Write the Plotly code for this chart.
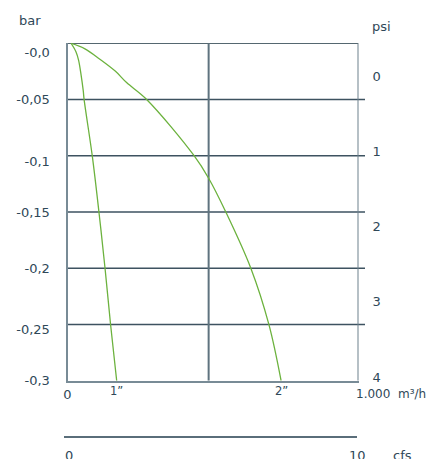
import plotly.graph_objects as go

# ---- data ----
q_1in = [12, 29, 38, 46, 54, 57, 85, 108, 129, 148, 169]
p_1in = [0, -0.0075, -0.015, -0.027, -0.042, -0.05, -0.1, -0.15, -0.2, -0.25, -0.3]

q_2in = [12, 60, 110, 165, 203, 272, 435, 485, 544, 630, 692, 734]
p_2in = [0, -0.005, -0.014, -0.025, -0.035, -0.05, -0.1, -0.12, -0.15, -0.2, -0.25, -0.3]

bar_labels = ["-0,0", "-0,05", "-0,1", "-0,15", "-0,2", "-0,25", "-0,3"]
bar_label_pos = [-0.008, -0.05, -0.105, -0.15, -0.2, -0.254, -0.3]
grid_levels = [-0.05, -0.1, -0.15, -0.2, -0.25]
psi_ticks = [0, 1, 2, 3, 4]
flow_max = 1000
mid_line = 485
cfs_ticks = [0, 10]
cfs_labels = ["0", "10"]

W, H = 435, 459
OFF = 8  # page body margin
TXT = "#2f4858"
FONT = "DejaVu Sans"
GREEN = "#6cb23e"


def px(x):
    return (x - OFF) / W


def py(y):
    return 1 - (y - OFF) / H


fig = go.Figure()
fig.add_trace(go.Scatter(x=q_1in, y=p_1in, mode="lines", line=dict(color=GREEN, width=1.3),
                         line_shape="spline", hoverinfo="skip"))
fig.add_trace(go.Scatter(x=q_2in, y=p_2in, mode="lines", line=dict(color=GREEN, width=1.3),
                         line_shape="spline", hoverinfo="skip"))
# helper traces to register secondary axes
fig.add_trace(go.Scatter(x=[0, 0], y=[psi_ticks[0], psi_ticks[-1]], yaxis="y2", mode="markers",
                         marker=dict(opacity=0), hoverinfo="skip"))
fig.add_trace(go.Scatter(x=cfs_ticks, y=[-0.3, -0.3], xaxis="x2", mode="markers",
                         marker=dict(opacity=0), hoverinfo="skip"))

shapes = []
for g in grid_levels:
    shapes.append(dict(type="line", xref="paper", yref="y", x0=px(67.5), x1=px(365), y0=g, y1=g,
                       line=dict(color="#3d5260", width=1.6), layer="below"))
# top line
shapes.append(dict(type="line", xref="x", yref="y", x0=0, x1=flow_max, y0=0, y1=0,
                   line=dict(color="#1d3441", width=1.6), layer="below"))
# right border
shapes.append(dict(type="line", xref="x", yref="y", x0=flow_max, x1=flow_max, y0=-0.3, y1=0,
                   line=dict(color="#6f828d", width=2), layer="below"))
# middle vertical
shapes.append(dict(type="line", xref="x", yref="y", x0=mid_line, x1=mid_line, y0=-0.3, y1=0,
                   line=dict(color="#5f737f", width=2), layer="below"))

f13 = dict(family=FONT, size=13, color=TXT)
f12 = dict(family=FONT, size=12, color=TXT)
f11 = dict(family=FONT, size=11.5, color=TXT)


def ann(text, x, y, xref="paper", yref="paper", font=f13, xanchor="center"):
    return dict(text=text, x=x, y=y, xref=xref, yref=yref, xanchor=xanchor, yanchor="middle",
                showarrow=False, font=font)


annotations = [
    ann("bar", px(30), py(20)),
    ann("psi", px(381), py(26.7)),
    ann("1\u201d", q_1in[-1], py(390.7), xref="x", font=f11),
    ann("2\u201d", q_2in[-1], py(390.7), xref="x", font=f11),
    ann("1.000\u00a0 m\u00b3/h", px(354), py(394.3), xanchor="left", font=f12),
    ann(cfs_labels[0], px(69), py(455)),
    ann(cfs_labels[1], cfs_ticks[1], py(455), xref="x2"),
    ann("cfs", px(402.7), py(455)),
]

fig.update_layout(
    width=W, height=H,
    margin=dict(l=0, r=0, t=0, b=0, pad=0),
    plot_bgcolor="rgba(0,0,0,0)", paper_bgcolor="white",
    showlegend=False,
    xaxis=dict(domain=[px(67.5), px(358.5)], range=[0, flow_max], showgrid=False, zeroline=False,
               showline=True, linecolor="#788b96", linewidth=2, automargin=False,
               tickvals=[0], ticktext=["0"], ticks="", ticklabelstandoff=1,
               tickfont=f13, fixedrange=True),
    yaxis=dict(domain=[py(380.7), py(43.2)], range=[-0.3, 0], showgrid=False, zeroline=False,
               showline=True, linecolor="#788b96", linewidth=2, automargin=False,
               tickvals=bar_label_pos, ticktext=bar_labels, ticks="", ticklabelstandoff=13,
               tickfont=f13),
    yaxis2=dict(overlaying="y", side="right", anchor="x", automargin=False,
                range=[(380.7 - 76) / 75.25, (43.2 - 76) / 75.25],
                tickvals=psi_ticks, ticktext=[str(t) for t in psi_ticks],
                showgrid=False, zeroline=False, showline=False, ticks="", ticklabelstandoff=13,
                tickfont=f13),
    xaxis2=dict(anchor="free", position=py(436.7), domain=[px(64.3), px(357.3)], automargin=False,
                range=[cfs_ticks[0], cfs_ticks[1]], showgrid=False, zeroline=False,
                showline=True, linecolor="#5a6e7a", linewidth=1.5,
                tickvals=cfs_ticks, ticks="inside", ticklen=14, tickwidth=1.5, tickcolor="#5a6e7a",
                showticklabels=False),
    shapes=shapes,
    annotations=annotations,
)

fig.write_html("out.html")
